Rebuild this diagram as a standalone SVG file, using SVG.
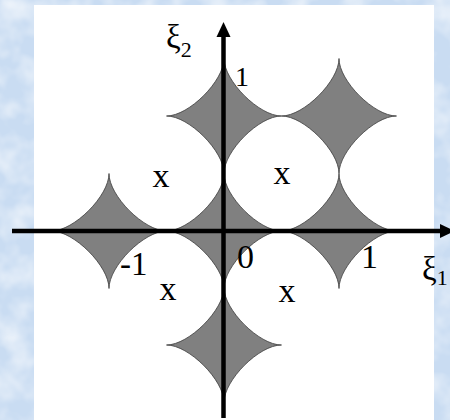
<svg xmlns="http://www.w3.org/2000/svg" xmlns:xlink="http://www.w3.org/1999/xlink" width="450" height="420" viewBox="0 0 450 420">
<style>
.star{fill:#808080;stroke:#3a3a3a;stroke-width:0.8}
.axis{stroke:#000;stroke-width:4.5;fill:none}
.head{fill:#000}
.lbl{font-family:"Liberation Serif","Times New Roman",serif;fill:#000}
</style>
<defs>
<filter id="tex" x="0" y="0" width="100%" height="100%">
<feTurbulence type="fractalNoise" baseFrequency="0.035" numOctaves="3" seed="5"/>
<feColorMatrix type="matrix" values="0 0 0 0 1  0 0 0 0 1  0 0 0 0 1  1.2 0 0 0 -0.45"/>
</filter>
<path id="star" class="star" d="M57.5,0 C35.1,0 0,-35.1 0,-57.5 C0,-35.1 -35.1,0 -57.5,0 C-35.1,0 0,35.1 0,57.5 C0,35.1 35.1,0 57.5,0Z"/>
</defs>
<g id="background">
<rect x="0" y="0" width="450" height="420" fill="#c9dcf2"/>
<rect x="0" y="0" width="450" height="420" filter="url(#tex)"/>
<rect x="34" y="5" width="400" height="415" fill="#ffffff"/>
</g>
<g id="stars">
<use xlink:href="#star" x="224" y="116"/>
<use xlink:href="#star" x="339" y="116"/>
<use xlink:href="#star" x="109" y="231"/>
<use xlink:href="#star" x="224" y="231"/>
<use xlink:href="#star" x="339" y="231"/>
<use xlink:href="#star" x="224" y="345"/>
</g>
<g id="axes">
<line class="axis" x1="12" y1="231" x2="442" y2="231"/>
<polygon class="head" points="440,224 455,231 440,238"/>
<line class="axis" x1="223.5" y1="418" x2="223.5" y2="35"/>
<polygon class="head" points="216.5,37 223.5,22 230.5,37"/>
</g>
<g id="labels" class="lbl">
<text x="166" y="48" font-size="33">ξ<tspan font-size="22" dy="9">2</tspan></text>
<text x="422" y="280" font-size="33">ξ<tspan font-size="22" dy="5">1</tspan></text>
<text x="235" y="86" font-size="28">1</text>
<text x="237" y="268" font-size="34">0</text>
<text x="361" y="268" font-size="34">1</text>
<text x="120" y="275" font-size="33">-1</text>
<text x="161" y="187" font-size="34" text-anchor="middle">x</text>
<text x="282" y="184" font-size="34" text-anchor="middle">x</text>
<text x="168" y="300" font-size="34" text-anchor="middle">x</text>
<text x="287" y="302" font-size="34" text-anchor="middle">x</text>
</g>
</svg>
